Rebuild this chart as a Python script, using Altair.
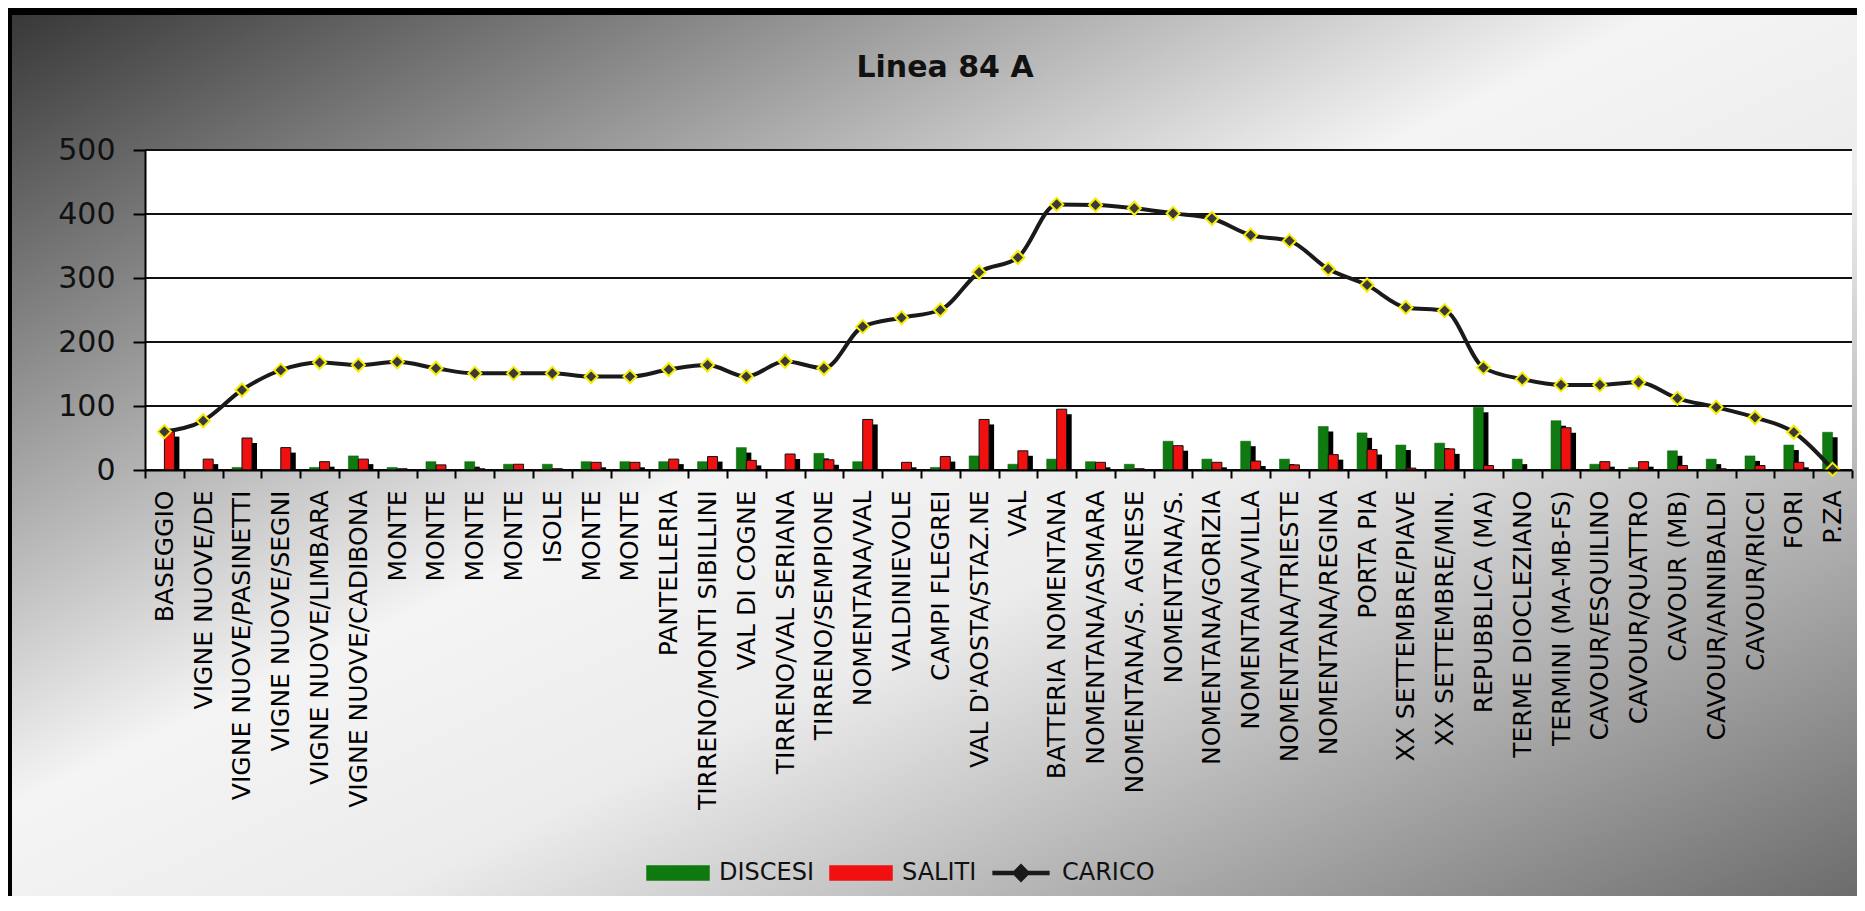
import json
import altair as alt
import pandas as pd

# ---------------- data ----------------
stops = [
    "BASEGGIO", "VIGNE NUOVE/DE", "VIGNE NUOVE/PASINETTI", "VIGNE NUOVE/SEGNI",
    "VIGNE NUOVE/LIMBARA", "VIGNE NUOVE/CADIBONA", "MONTE", "MONTE", "MONTE",
    "MONTE", "ISOLE", "MONTE", "MONTE", "PANTELLERIA", "TIRRENO/MONTI SIBILLINI",
    "VAL DI COGNE", "TIRRENO/VAL SERIANA", "TIRRENO/SEMPIONE", "NOMENTANA/VAL",
    "VALDINIEVOLE", "CAMPI FLEGREI", "VAL D'AOSTA/STAZ.NE", "VAL",
    "BATTERIA NOMENTANA", "NOMENTANA/ASMARA", "NOMENTANA/S. AGNESE",
    "NOMENTANA/S.", "NOMENTANA/GORIZIA", "NOMENTANA/VILLA", "NOMENTANA/TRIESTE",
    "NOMENTANA/REGINA", "PORTA PIA", "XX SETTEMBRE/PIAVE", "XX SETTEMBRE/MIN.",
    "REPUBBLICA (MA)", "TERME DIOCLEZIANO", "TERMINI (MA-MB-FS)",
    "CAVOUR/ESQUILINO", "CAVOUR/QUATTRO", "CAVOUR (MB)", "CAVOUR/ANNIBALDI",
    "CAVOUR/RICCI", "FORI", "P.ZA",
]
discesi = [0, 0, 4, 0, 4, 22, 4, 13, 13, 9, 9, 13, 13, 13, 13, 35, 0, 26, 13, 0,
           4, 22, 9, 17, 13, 9, 45, 17, 45, 17, 68, 58, 39, 42, 98, 17, 77, 9,
           4, 30, 17, 22, 39, 59]
saliti = [60, 17, 50, 35, 13, 17, 2, 8, 2, 9, 2, 12, 12, 17, 21, 15, 25, 16, 79,
          12, 21, 79, 30, 95, 12, 2, 38, 12, 14, 8, 24, 32, 3, 33, 7, 0, 66, 13,
          13, 7, 2, 7, 12, 0]
carico = [60, 77, 125, 156, 168, 164, 169, 159, 151, 151, 151, 146, 146, 157,
          164, 146, 170, 159, 224, 238, 250, 309, 332, 415, 414, 409, 401, 393,
          367, 358, 314, 289, 254, 249, 160, 142, 133, 133, 137, 112, 98, 82,
          59, 1]
series_names = ["DISCESI", "SALITI", "CARICO"]
series_colors = ["#0f7a0f", "#f01010", "#1a1a1a"]
y_ticks = [0, 100, 200, 300, 400, 500]
chart_title = ["Linea 84 A"]

# ---------------- layout ----------------
W, H = 1707, 320
PL, PT, PR, PB = 137, 142, 5, 426
FONT = "DejaVu Sans"

n = len(stops)
green_df = pd.DataFrame({"idx": list(range(n)), "serie": "DISCESI", "v": discesi})
red_df = pd.DataFrame({"idx": list(range(n)), "serie": "SALITI", "v": saliti})
line_df = pd.DataFrame({"idx": list(range(n)), "serie": "CARICO", "v": carico})
grid_df = pd.DataFrame({"v": y_ticks})
title_df = pd.DataFrame({"t": chart_title})
one = pd.DataFrame({"a": [0]})

label_expr = json.dumps(stops) + "[datum.value]"

x_enc = alt.X(
    "idx:O",
    scale=alt.Scale(paddingInner=0, paddingOuter=0),
    axis=alt.Axis(
        title=None, labelExpr=label_expr, labelAngle=270, labelFont=FONT,
        labelFontSize=25, labelColor="#000", labelLimit=0, labelOverlap=False,
        labelPadding=12, tickBand="extent", tickSize=8, tickWidth=2,
        tickColor="#000", domainColor="#000", domainWidth=2, grid=False,
        zindex=1,
    ),
)
y_enc = alt.Y(
    "v:Q",
    scale=alt.Scale(domain=[0, 500], nice=False),
    axis=alt.Axis(
        title=None, values=y_ticks, grid=False, tickSize=12, tickWidth=2,
        tickColor="#000", domainColor="#000", domainWidth=2, labelFont=FONT,
        labelFontSize=30, labelPadding=18, labelColor="#111", zindex=1,
    ),
)

RECT_PATH = "M-1,-0.226H1V0.226H-1Z"
LINE_PATH = ("M-0.9,-0.05H-0.22L0,-0.27L0.22,-0.05H0.9V0.05H0.22L0,0.27"
             "L-0.22,0.05H-0.9Z")

legend_def = alt.Legend(
    title=None, orient="none", legendX=501, legendY=691,
    direction="horizontal", labelFont=FONT, labelFontSize=24,
    labelColor="#111", symbolSize=3844, columnPadding=12, labelOffset=9,
    padding=0, symbolStrokeColor="#111", symbolStrokeWidth=1.5,
    symbolOpacity=1,
)

color_enc = alt.Color(
    "serie:N",
    scale=alt.Scale(domain=series_names, range=series_colors),
    legend=legend_def,
)
shape_enc = alt.Shape(
    "serie:N",
    scale=alt.Scale(domain=series_names, range=[RECT_PATH, RECT_PATH, LINE_PATH]),
    legend=legend_def,
)

gradient = alt.LinearGradient(
    gradient="linear", x1=0, y1=0, x2=1, y2=1,
    stops=[
        alt.GradientStop(color="#363636", offset=0),
        alt.GradientStop(color="#f4f4f4", offset=0.45),
        alt.GradientStop(color="#ececec", offset=0.6),
        alt.GradientStop(color="#6c6c6c", offset=1),
    ],
)

bg = alt.Chart(one).mark_rect(fill=gradient).encode(
    x=alt.value(-PL), x2=alt.value(W + PR), y=alt.value(-PT), y2=alt.value(H + PB))
frame_left = alt.Chart(one).mark_rect(fill="#000").encode(
    x=alt.value(-PL), x2=alt.value(-PL + 4), y=alt.value(-PT), y2=alt.value(H + PB))
frame_top = alt.Chart(one).mark_rect(fill="#000").encode(
    x=alt.value(-PL), x2=alt.value(W + PR), y=alt.value(-PT), y2=alt.value(-PT + 7))
plot_bg = alt.Chart(one).mark_rect(fill="#ffffff").encode(
    x=alt.value(0), x2=alt.value(W), y=alt.value(0), y2=alt.value(H))

grid = alt.Chart(grid_df).mark_rule(color="#111", strokeWidth=2).encode(y=y_enc)

title = alt.Chart(title_df).mark_text(
    font=FONT, fontSize=30, fontWeight="bold", color="#111",
    align="center", baseline="middle",
).encode(text="t:N", x=alt.value(800), y=alt.value(-82))

BW = 10
green_shadow = alt.Chart(green_df).mark_bar(
    color="#000", width=BW, xOffset=-BW / 2 + 5, yOffset=5, clip=True
).encode(x=x_enc, y=y_enc)
red_shadow = alt.Chart(red_df).mark_bar(
    color="#000", width=BW, xOffset=BW / 2 + 5, yOffset=5, clip=True
).encode(x=x_enc, y=y_enc)
green_bars = alt.Chart(green_df).mark_bar(
    width=BW, xOffset=-BW / 2, stroke="#0a5a0a", strokeWidth=0.5
).encode(x=x_enc, y=y_enc, color=color_enc)
red_bars = alt.Chart(red_df).mark_bar(
    width=BW, xOffset=BW / 2, stroke="#111", strokeWidth=1
).encode(x=x_enc, y=y_enc, color=color_enc)

line = alt.Chart(line_df).mark_line(
    strokeWidth=4, interpolate="monotone"
).encode(x=x_enc, y=y_enc, color=color_enc)
points = alt.Chart(line_df).mark_point(
    shape="diamond", filled=True, fill="#3a3a3a", stroke="#f5ec00",
    strokeWidth=2, size=170, opacity=1
).encode(x=x_enc, y=y_enc)

# legend-only layer (no rows drawn) that gives each legend entry its symbol
legend_layer = alt.Chart(line_df).transform_filter("false").mark_point(
    filled=True, opacity=1
).encode(x=x_enc, y=y_enc, color=color_enc, shape=shape_enc)

chart = alt.layer(
    bg, frame_left, frame_top, plot_bg, grid, title,
    green_shadow, red_shadow, green_bars, red_bars, line, points, legend_layer,
).properties(
    width=W, height=H,
    autosize=alt.AutoSizeParams(type="none"),
    padding={"left": PL, "top": PT, "right": PR, "bottom": PB},
).configure_view(stroke=None)

chart.save("out.html", embed_options={"renderer": "svg", "actions": False})
